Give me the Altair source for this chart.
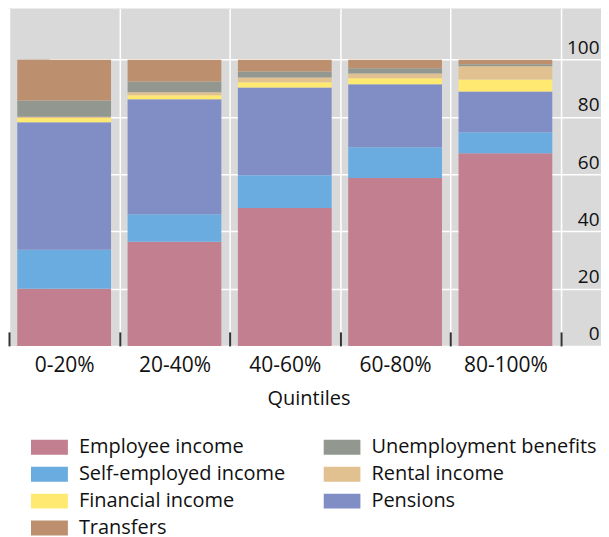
import altair as alt
import pandas as pd

quintiles = ["0-20%", "20-40%", "40-60%", "60-80%", "80-100%"]

employee = [20.0, 36.4, 48.2, 58.7, 67.3]
self_employed = [13.6, 9.6, 11.4, 10.7, 7.3]
pensions = [44.5, 40.2, 30.7, 22.0, 14.3]
financial = [1.5, 1.4, 1.8, 2.1, 4.2]
rental = [0.5, 1.0, 1.7, 1.7, 4.6]
unemployment = [5.6, 3.8, 2.1, 1.8, 0.7]
transfers = [14.3, 7.6, 4.1, 3.0, 1.6]

# stacking order bottom -> top
stack_series = [
    ("Employee income", employee),
    ("Self-employed income", self_employed),
    ("Pensions", pensions),
    ("Financial income", financial),
    ("Rental income", rental),
    ("Unemployment benefits", unemployment),
    ("Transfers", transfers),
]

# legend order (filled column by column, 2 columns)
legend_order = [
    "Employee income", "Self-employed income", "Financial income", "Transfers",
    "Unemployment benefits", "Rental income", "Pensions",
]
colors = {
    "Employee income": "#C27F90",
    "Self-employed income": "#6AACDF",
    "Financial income": "#FFE970",
    "Transfers": "#BC906E",
    "Unemployment benefits": "#92988F",
    "Rental income": "#E2C191",
    "Pensions": "#818EC6",
}

rows = []
for order, (name, vals) in enumerate(stack_series):
    for q, v in zip(quintiles, vals):
        rows.append({"quintile": q, "source": name, "value": v, "ord": order})
df = pd.DataFrame(rows)

FONT = "Open Sans"

chart = alt.Chart(df).mark_bar(width=alt.RelativeBandSize(0.85)).encode(
    x=alt.X(
        "quintile:N",
        sort=quintiles,
        scale=alt.Scale(domain=quintiles, range=[0, 552.5], paddingInner=0, paddingOuter=0),
        axis=alt.Axis(
            title="Quintiles",
            labelAngle=0,
            labelFontSize=21,
            labelFont=FONT,
            labelColor="#111111",
            labelPadding=9,
            titleFont=FONT,
            titleFontSize=20,
            titleFontWeight="normal",
            titleColor="#111111",
            titleX=300,
            titlePadding=13,
            tickBand="extent",
            ticks=True,
            tickSize=14,
            tickColor="#333333",
            tickWidth=2,
            offset=-14,
            domain=False,
            grid=True,
            gridColor="white",
            gridWidth=1.5,
        ),
    ),
    y=alt.Y(
        "value:Q",
        stack="zero",
        scale=alt.Scale(domain=[0, 117.9], nice=False),
        axis=alt.Axis(
            orient="right",
            title=None,
            values=[0, 20, 40, 60, 80, 100],
            labelFontSize=19,
            labelFont=FONT,
            labelColor="#111111",
            labelAlign="right",
            labelBaseline="alphabetic",
            labelOffset=-6,
            labelPadding=-2,
            ticks=False,
            domain=False,
            grid=True,
            gridColor="white",
            gridWidth=1.5,
        ),
    ),
    color=alt.Color(
        "source:N",
        scale=alt.Scale(domain=legend_order, range=[colors[k] for k in legend_order]),
        legend=alt.Legend(
            title=None,
            orient="none",
            legendX=22,
            legendY=426,
            columns=2,
            symbolType="M-1,-0.405L1,-0.405L1,0.405L-1,0.405Z",
            symbolSize=1369,
            symbolStrokeWidth=0,
            symbolOpacity=1,
            labelFont=FONT,
            labelFontSize=20,
            labelColor="#111111",
            labelOffset=11,
            labelLimit=400,
            clipHeight=27,
            rowPadding=0,
            columnPadding=38,
        ),
    ),
    order=alt.Order("ord:Q"),
).properties(
    width=593,
    height=338,
    padding=0,
).configure_view(
    fill="#D9D9D9",
    stroke=None,
)

chart.save("out.html", embed_options={"renderer": "svg", "actions": False})
